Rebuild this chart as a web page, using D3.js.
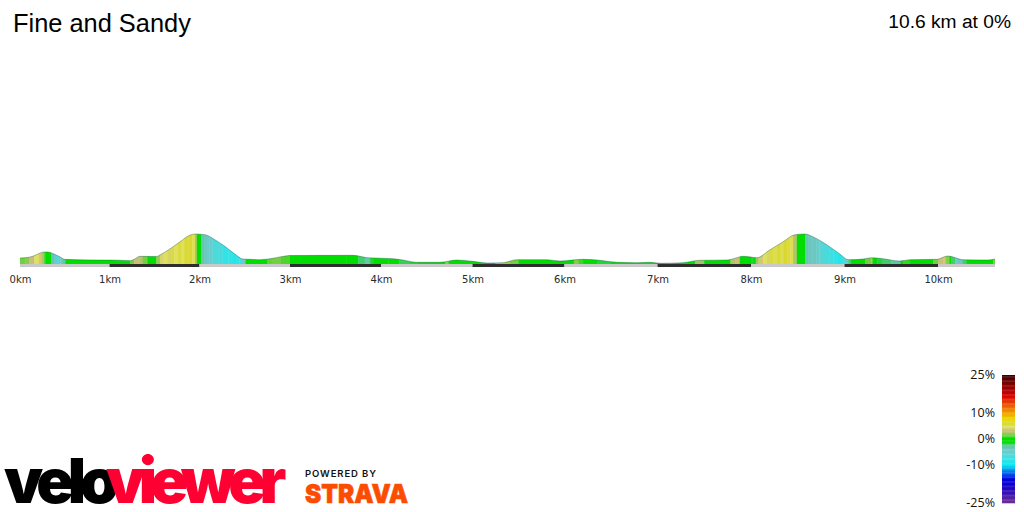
<!DOCTYPE html>
<html>
<head>
<meta charset="utf-8">
<script src="https://cdn.jsdelivr.net/npm/d3@7"></script>
<style>
  body { margin: 0; background: #fff; }
  svg { display: block; }
  .tick text { font-family: "DejaVu Sans", sans-serif; font-size: 10px; fill: #2a2a2a; }
  .legend-label { font-family: "Open Sans", sans-serif; font-size: 12.5px; fill: #111; }
</style>
</head>
<body>
<svg id="chart" width="1024" height="512"></svg>
<script>
const title = 'Fine and Sandy';
const summary = '10.6 km at 0%';

// profile
const profileKm = [0, .08, .15, .2, .27, .31, .38, .45, .5, .67, .89, 1.11, 1.23, 1.28, 1.34, 1.47, 1.53, 1.56, 1.67, 1.78, 1.89, 1.95, 2.06, 2.17, 2.28, 2.39, 2.48, 2.56, 2.67, 2.81, 2.97, 3.0, 3.69, 3.85, 4.13, 4.24, 4.39, 4.64, 4.83, 5.0, 5.16, 5.33, 5.48, 5.81, 5.95, 6.2, 6.35, 6.57, 6.78, 6.92, 7.03, 7.27, 7.45, 7.74, 7.85, 7.91, 8.0, 8.06, 8.2, 8.34, 8.47, 8.58, 8.66, 8.81, 8.95, 9.04, 9.2, 9.29, 9.41, 9.59, 9.7, 9.99, 10.1, 10.16, 10.26, 10.52, 10.6];
const elevation = [7, 7.5, 9, 11, 13, 13, 11, 8, 5.7, 5.2, 5, 4.8, 4.3, 6, 8.7, 8.5, 8.6, 10, 16, 23, 29.7, 31, 30.3, 25.3, 18.7, 11, 6, 5.7, 5.3, 6.7, 9.3, 9.5, 9.7, 7.3, 6.3, 5, 2.7, 2.7, 5, 3.7, 2, 2.3, 5.3, 5.3, 4, 5.7, 5, 2.7, 2.3, 2.7, 1.7, 2.3, 4.7, 5, 7.3, 8.7, 8, 7.2, 15, 23, 30.3, 31, 28.3, 20.3, 11, 5.3, 6, 7.3, 6.3, 4, 5.3, 5.7, 9, 8, 5.3, 5, 6];

// colour bands along the route: start km and gradient %, same line for same stretch
const gradeKm = [
  0, .06, .1, .16, .21, .24, .27, .29, .33, .35, .38, .4, .43, .45, .47, .49, .51,
  1.23, 1.27, 1.33, 1.37, 1.42, 1.48, 1.52, 1.56, 1.6, 1.64, 1.68, 1.72, 1.76, 1.8, 1.83, 1.86, 1.89, 1.92, 1.95, 1.97,
  2.02, 2.05, 2.08, 2.11, 2.14, 2.18, 2.21, 2.25, 2.28, 2.32, 2.36, 2.4, 2.44, 2.47, 2.51,
  2.75, 2.8, 2.9, 3.0, 3.62, 3.7, 3.75, 3.82, 3.88, 3.92, 4.08, 4.2, 4.3, 4.4, 4.7, 4.74,
  5.25, 5.4, 5.5, 6.1, 6.15, 6.2, 6.35, 6.5, 7.4, 7.5, 7.78, 7.83, 7.88,
  8.0, 8.03, 8.05, 8.08, 8.13, 8.17, 8.2, 8.24, 8.28, 8.31, 8.35, 8.39, 8.42, 8.45, 8.49,
  8.58, 8.61, 8.64, 8.67, 8.7, 8.73, 8.77, 8.8, 8.84, 8.88, 8.93, 8.97, 9.0, 9.04,
  9.07, 9.22, 9.28, 9.3, 9.35, 9.4, 9.5, 9.6, 9.63, 9.7,
  9.95, 10.0, 10.05, 10.08, 10.12, 10.14, 10.18, 10.22, 10.26, 10.3, 10.58
];
const gradePct = [
  1.5, 2, 3.5, 5, 4, 3, 1, 0, -1, -3, -4, -6, -5, -4, -3, -2.5, 0,
  1.5, 3.5, 3, 1.5, 0, -1, 2.5, 4.5, 5, 4.5, 6, 5, 6, 5, 6.5, 6, 6.5, 5.5, 3, .5,
  -3, -3.5, -4.5, -4, -6, -6.5, -6, -7.5, -8, -7.5, -8.5, -8, -7, -4, 0,
  1.4, 1.6, 1.2, 0, .5, -1, -2, -3, -1.5, 0, -1, -1.8, -1.5, 0, 2, 0,
  2.5, 1.5, 0, 2, 1, 0, -1.5, 0, 2.5, 0, 3, 3.5, 0,
  -1.5, 0, 2.5, 4, 5, 4.5, 6, 5.5, 6.5, 5.5, 6.5, 6, 5.5, 3, .5,
  -3, -3.5, -4, -3.5, -4.5, -5.5, -6, -6.5, -7, -8, -8.5, -7.5, -5, -2,
  0, 1.5, 3, .5, -1.5, -2, -2.5, 0, 1, 0,
  1.5, 3.5, 4, 2, 0, -2, -4, -3.5, -2, 0, 1.5
];

const kmTicks = [0, 1, 2, 3, 4, 5, 6, 7, 8, 9, 10];
const kmStops = [0, 1, 2, 3, 4, 5, 6, 7, 8, 9, 10, 10.6];
const legendTicks = [25, 10, 0, -10, -25];
const colorStops = [25, 21, 17, 13, 10, 7.5, 6.5, 5, 3.5, 1.5, .5, -1, -2.5, -4, -6, -8, -10, -12, -15.5, -18.5, -25];
const colorValues = ['#3a0000', '#8c0000', '#d80000', '#f06000', '#f0a800', '#e8e000', '#d8d830', '#e0e060', '#c8c078', '#70d040', '#00dd00', '#00dd00', '#60c8a0', '#70c8c8', '#50d8d8', '#30e4e8', '#00e8f0', '#0090f0', '#0000e0', '#1800c8', '#703090'];

const svg = d3.select('#chart');

const x = d3.scaleLinear().domain(kmStops)
    .range([20, 109.5, 199.5, 290, 381, 472.5, 564.5, 657.5, 751, 844.5, 938, 995]);
const y = d3.scaleLinear().domain([0, 31]).range([265, 234]);
const color = d3.scaleLinear().domain(colorStops).range(colorValues);

const profile = profileKm.map((km, i) => ({ km, ele: elevation[i] }));
const baseY = 264;

const area = d3.area().x(d => x(d.km)).y0(baseY).y1(d => y(d.ele)).curve(d3.curveMonotoneX);
const line = d3.line().x(d => x(d.km)).y(d => y(d.ele)).curve(d3.curveMonotoneX);

svg.append('clipPath').attr('id', 'profile-clip')
    .append('path').attr('d', area(profile));

// gradient bands
svg.append('g').attr('clip-path', 'url(#profile-clip)')
    .selectAll('rect')
    .data(gradeKm)
    .enter()
    .append('rect')
    .attr('x', d => x(d))
    .attr('y', 230)
    .attr('width', (d, i) => x(i < gradeKm.length - 1 ? gradeKm[i + 1] : 10.6) - x(d) + 0.4)
    .attr('height', 36)
    .attr('fill', (d, i) => color(gradePct[i]));

svg.append('path')
    .attr('d', line(profile))
    .attr('fill', 'none')
    .attr('stroke', '#0a4a3a')
    .attr('stroke-opacity', 0.45)
    .attr('stroke-width', 0.8);

// km strip under the profile
svg.append('g')
    .selectAll('rect')
    .data(kmStops.slice(0, -1))
    .enter()
    .append('rect')
    .attr('x', d => x(d))
    .attr('y', baseY)
    .attr('width', (d, i) => x(kmStops[i + 1]) - x(d))
    .attr('height', 3)
    .attr('fill', d => d % 2 ? '#2e2e2e' : '#c9c9c9');

const xAxis = d3.axisBottom(x).tickValues(kmTicks).tickFormat(d => d + 'km').tickSize(0).tickPadding(0);
const axisG = svg.append('g').attr('transform', 'translate(0,276)').call(xAxis);
axisG.select('.domain').remove();

// title and summary
svg.append('text').attr('x', 13).attr('y', 32)
    .attr('font-family', '"Liberation Sans", Arial, sans-serif').attr('font-size', 25.4)
    .attr('fill', '#000').text(title);
svg.append('text').attr('x', 1011).attr('y', 28).attr('text-anchor', 'end')
    .attr('font-family', '"Liberation Sans", Arial, sans-serif').attr('font-size', 19.2)
    .attr('fill', '#000').text(summary);

// gradient legend
const legendY = d3.scaleLinear().domain([25, -25]).range([375, 503]);
svg.append('g')
    .selectAll('rect')
    .data(d3.range(25, -25, -0.5))
    .enter()
    .append('rect')
    .attr('x', 1002)
    .attr('y', d => legendY(d))
    .attr('width', 13)
    .attr('height', legendY(0) - legendY(0.5) + 0.3)
    .attr('fill', d => color(d));

svg.append('g')
    .selectAll('text')
    .data(legendTicks)
    .enter()
    .append('text')
    .attr('class', 'legend-label')
    .attr('x', 995)
    .attr('y', d => legendY(d) + 4)
    .attr('text-anchor', 'end')
    .text(d => d + '%');

// logos
const logoFont = 'Inter, "Liberation Sans", sans-serif';
svg.append('text').attr('x', 4).attr('y', 503)
    .attr('font-family', logoFont).attr('font-weight', 900).attr('font-size', 62)
    .attr('letter-spacing', -6)
    .attr('fill', '#000').text('velo');
svg.append('text').attr('x', 106).attr('y', 503)
    .attr('font-family', logoFont).attr('font-weight', 900).attr('font-size', 62)
    .attr('letter-spacing', -6.5)
    .attr('fill', '#ff0033').text('viewer');
svg.append('text').attr('x', 305).attr('y', 477)
    .attr('font-family', logoFont).attr('font-weight', 600).attr('font-size', 9.5)
    .attr('letter-spacing', 0.9).attr('fill', '#111').text('POWERED BY');
svg.append('text').attr('x', 305).attr('y', 503)
    .attr('font-family', logoFont).attr('font-weight', 900).attr('font-size', 26)
    .attr('textLength', 103).attr('lengthAdjust', 'spacingAndGlyphs')
    .attr('fill', '#fc4c02').attr('stroke', '#fc4c02').attr('stroke-width', 0.6).text('STRAVA');
</script>
</body>
</html>
